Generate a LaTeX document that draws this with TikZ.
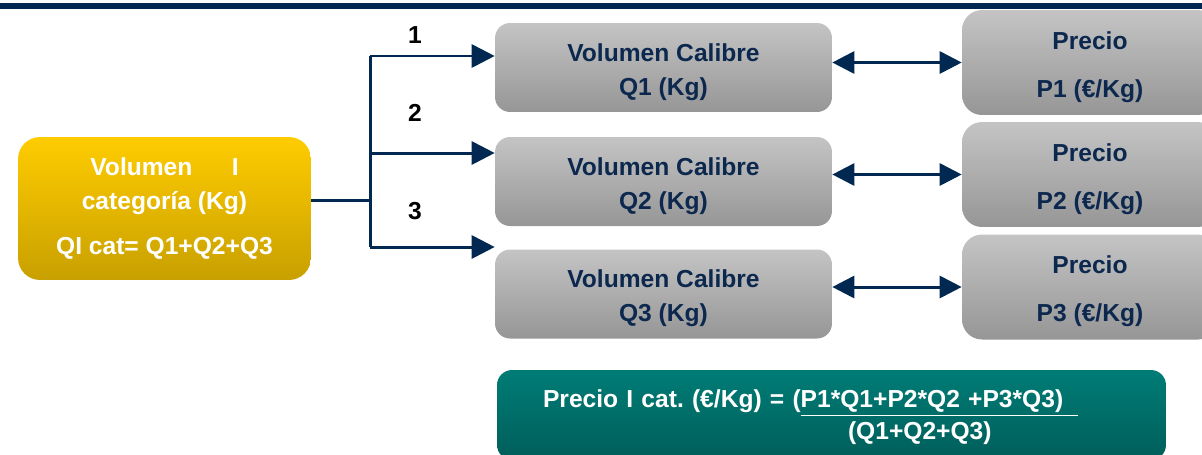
\documentclass[tikz,border=0pt]{standalone}
\usepackage{fontspec}
\setmainfont{Liberation Sans}
\usepackage{xcolor}
\usetikzlibrary{arrows.meta,positioning}
\frenchspacing

\definecolor{navyline}{RGB}{0,40,80}
\definecolor{navytext}{RGB}{12,40,78}
\definecolor{yelTop}{RGB}{255,204,0}
\definecolor{yelBot}{RGB}{200,160,0}
\definecolor{grayTop}{RGB}{196,196,196}
\definecolor{grayBot}{RGB}{150,150,150}
\definecolor{tealTop}{RGB}{0,124,118}
\definecolor{tealBot}{RGB}{0,94,90}

\newcommand{\topgap}{\rule{0pt}{15pt}}

\tikzset{
  boxfont/.style={font=\bfseries\fontsize{14}{19.3}\selectfont},
  catbox/.style={boxfont, rounded corners=0.44cm, top color=yelTop, bottom color=yelBot,
    minimum width=5.86cm, minimum height=2.86cm, align=center, text=white},
  calbox/.style={boxfont, rounded corners=0.3cm, top color=grayTop, bottom color=grayBot,
    minimum width=6.74cm, minimum height=1.78cm, align=center, text=navytext},
  pricebox/.style={boxfont, rounded corners=0.4cm, top color=grayTop, bottom color=grayBot,
    minimum width=5.12cm, minimum height=2.1cm, align=center, text=navytext},
  resbox/.style={font=\bfseries\fontsize{14}{18.2}\selectfont, rounded corners=0.3cm,
    top color=tealTop, bottom color=tealBot, minimum width=13.38cm, minimum height=1.8cm,
    text width=11.54cm, inner xsep=0.92cm, align=left, text=white,
    execute at begin node=\rule{0pt}{13pt}},
  conn/.style={navyline, line width=1.7pt},
  tip/.style={conn, -{Triangle[length=0.46cm, width=0.46cm]}},
  dtip/.style={conn, {Triangle[length=0.44cm, width=0.44cm]}-{Triangle[length=0.44cm, width=0.44cm]}},
  branchnum/.style={boxfont, text=black}
}

\begin{document}
\begin{tikzpicture}[x=0.02cm, y=-0.02cm]
  \useasboundingbox (0,0) rectangle (1202,454);
  \clip (0,0) rectangle (1202,454);
  \fill[navyline] (0,3) rectangle (1202,9);

  % boxes
  \node[catbox] (cat) at (164.5,208.5) {Volumen\hspace{1.6em}I\\ categoría (Kg)\\[6.8pt] QI cat= Q1+Q2+Q3};
  \node[calbox] (q1) at (663.5,67.5) {\topgap Volumen Calibre\\ Q1 (Kg)};
  \node[calbox] (q2) at (663.5,181.5) {\topgap Volumen Calibre\\ Q2 (Kg)};
  \node[calbox] (q3) at (663.5,294) {\topgap Volumen Calibre\\ Q3 (Kg)};
  \node[pricebox] (p1) at (1090,62.5) {\topgap Precio\\[8pt] P1 (€/Kg)};
  \node[pricebox] (p2) at (1090,174.5) {\topgap Precio\\[8pt] P2 (€/Kg)};
  \node[pricebox] (p3) at (1090,287) {\topgap Precio\\[8pt] P3 (€/Kg)};
  \node[resbox] (res) at (831.5,415) {Precio I cat. (€/Kg) = (\underline{P1*Q1+P2*Q2 +P3*Q3)\hspace{0.3cm}}\\
    \hspace*{6.1cm}(Q1+Q2+Q3)};

  % branching
  \coordinate (split) at (370,200);
  \coordinate (b1) at (370,56);
  \coordinate (b2) at (370,153);
  \coordinate (b3) at (370,247);
  \draw[conn] (cat.east |- split) -- (split);
  \draw[conn] (b1) -- (b3);
  \draw[tip] (b1) -- (q1.west |- b1);
  \draw[tip] (b2) -- (q2.west |- b2);
  \draw[tip] (b3) -- (q3.west |- b3);
  \node[branchnum] (n1) at (415,35) {1};
  \node[branchnum] (n2) at (415,113) {2};
  \node[branchnum] (n3) at (415,211) {3};

  % volume <-> price
  \draw[dtip] (p1.west -| q1.east) -- (p1.west);
  \draw[dtip] (p2.west -| q2.east) -- (p2.west);
  \draw[dtip] (p3.west -| q3.east) -- (p3.west);
\end{tikzpicture}
\end{document}
